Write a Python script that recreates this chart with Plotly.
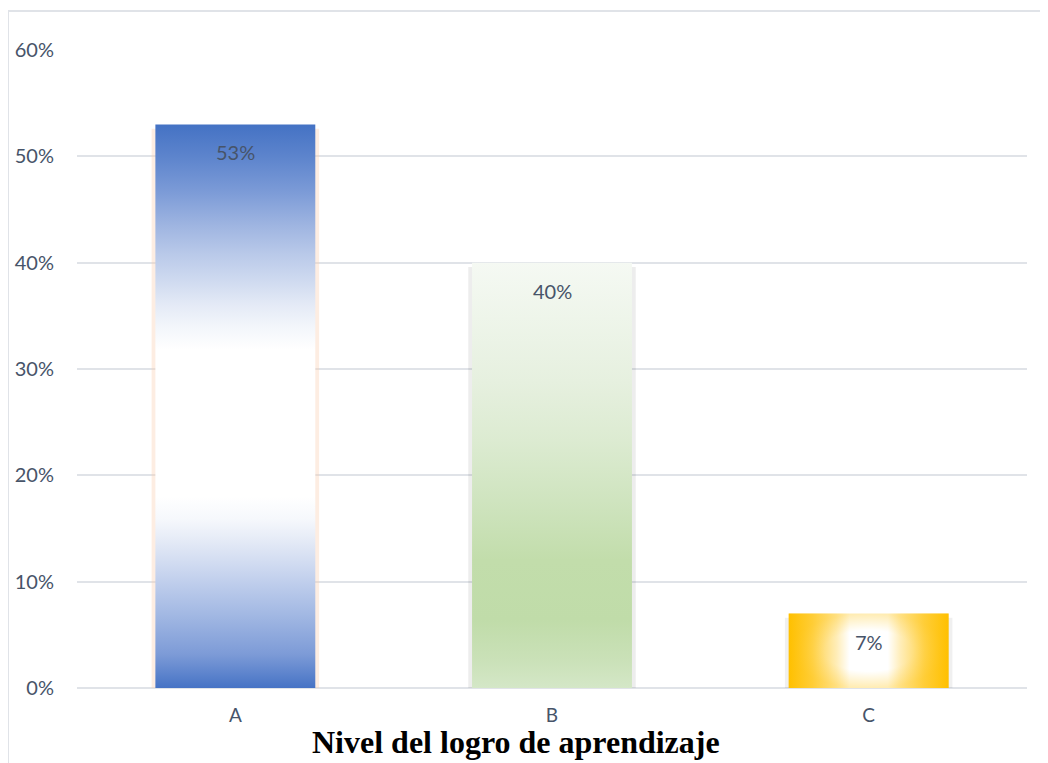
import plotly.graph_objects as go

categories = ["A", "B", "C"]
values = [0.53, 0.40, 0.07]
labels = ["53%", "40%", "7%"]
y_ticks = [0, 0.1, 0.2, 0.3, 0.4, 0.5, 0.6]
y_ticktext = ["0%", "10%", "20%", "30%", "40%", "50%", "60%"]
x_title = "Nivel del logro de aprendizaje"

BAR_W = 0.505
TEXT = "#475469"
GRID = "#E0E3E8"
FONT = "Lato, Carlito, Open Sans"

grad_a = dict(type="vertical", colorscale=[
    [0, "#4673C5"], [0.06, "#7D9BD7"], [0.13, "#A2B8E3"], [0.2, "#C6D3EE"],
    [0.26, "#E4EAF6"], [0.3, "#F6F8FC"], [0.34, "#FFFFFF"], [0.6, "#FFFFFF"],
    [0.64, "#F3F6FB"], [0.68, "#E4EAF6"], [0.72, "#D0DBF0"], [0.77, "#B9C9E9"],
    [0.82, "#9FB5E1"], [0.88, "#7C9BD7"], [0.94, "#5E85CD"], [1, "#4472C4"]])
grad_b = dict(type="vertical", colorscale=[
    [0, "#D4E7C7"], [0.066, "#CAE1B8"], [0.16, "#C0DCA9"], [0.3, "#C2DDAB"],
    [0.44, "#CFE4BF"], [0.58, "#DCEBD1"], [0.72, "#E6F0DF"], [0.87, "#EEF5EA"],
    [1, "#F5F9F3"]])
grad_c = dict(type="horizontal", colorscale=[
    [0, "#FFC000"], [0.15, "#FFD34D"], [0.3, "#FFEDB8"], [0.38, "#FFFFFF"],
    [0.62, "#FFFFFF"], [0.7, "#FFEDB8"], [0.85, "#FFD34D"], [1, "#FFC000"]])
gradients = [grad_a, grad_b, grad_c]
halo = ["rgba(248,203,173,0.35)", "rgba(0,0,0,0.07)", "rgba(0,0,0,0.06)"]

fig = go.Figure()

# soft halo / shadow behind each bar
dx, dy = 0.012, 0.004
for i, v in enumerate(values):
    x0, x1 = i - BAR_W / 2 - dx, i + BAR_W / 2 + dx
    fig.add_trace(go.Scatter(
        x=[x0, x0, x1, x1, x0], y=[-dy, v - dy, v - dy, -dy, -dy],
        mode="lines", line=dict(width=0), fill="toself", fillcolor=halo[i],
        hoverinfo="skip", showlegend=False))

for i, v in enumerate(values):
    x0, x1 = i - BAR_W / 2, i + BAR_W / 2
    fig.add_trace(go.Scatter(
        x=[x0, x0, x1, x1, x0], y=[0, v, v, 0, 0],
        mode="lines", line=dict(width=0), fill="toself",
        fillgradient=gradients[i], name=categories[i],
        hoverinfo="skip", showlegend=False))

# radial tint for C to mimic centre-path gradient
cx0, cx1 = 2 - BAR_W / 2, 2 + BAR_W / 2
fig.add_trace(go.Scatter(
    x=[cx0, cx0, cx1, cx1, cx0], y=[0, values[2], values[2], 0, 0],
    mode="lines", line=dict(width=0), fill="toself",
    fillgradient=dict(type="radial", colorscale=[
        [0, "rgba(255,192,0,0)"], [0.55, "rgba(255,192,0,0)"], [1, "rgba(255,192,0,0.3)"]]),
    hoverinfo="skip", showlegend=False))

for i, v in enumerate(values):
    fig.add_annotation(x=i, y=v, text=labels[i], showarrow=False,
                       yanchor="middle", yshift=-28,
                       font=dict(family=FONT, size=20, color=TEXT))

fig.add_annotation(xref="paper", yref="paper", x=0.4626, y=-0.0846,
                   text="<b>" + x_title + "</b>", showarrow=False,
                   xanchor="center", yanchor="middle",
                   font=dict(family="Liberation Serif, Times New Roman", size=32, color="#000000"))

# outer chart border (left and top)
fig.add_shape(type="line", xref="paper", yref="paper", x0=-0.0726, x1=-0.0726,
              y0=-0.2, y1=1.0611, line=dict(color=GRID, width=2))
fig.add_shape(type="line", xref="paper", yref="paper", x0=-0.0726, x1=1.05,
              y0=1.0611, y1=1.0611, line=dict(color=GRID, width=2))

fig.update_layout(
    width=1040, height=755,
    margin=dict(l=69, r=21, t=42, b=75, autoexpand=False),
    paper_bgcolor="white", plot_bgcolor="white",
    font=dict(family=FONT, size=20, color=TEXT),
    xaxis=dict(range=[-0.5, 2.5], tickvals=[0, 1, 2], ticktext=categories,
               showgrid=False, zeroline=False, showline=False, automargin=False,
               ticks="", ticklabelstandoff=14,
               tickfont=dict(size=19, color=TEXT)),
    yaxis=dict(range=[0, 0.6], tickvals=y_ticks, ticktext=y_ticktext,
               showgrid=True, gridcolor=GRID, gridwidth=1.5,
               zeroline=True, zerolinecolor=GRID, zerolinewidth=1.5,
               showline=False, automargin=False, ticks="", ticklabelstandoff=22,
               tickfont=dict(size=20, color=TEXT)),
)

fig.write_html("out.html")
